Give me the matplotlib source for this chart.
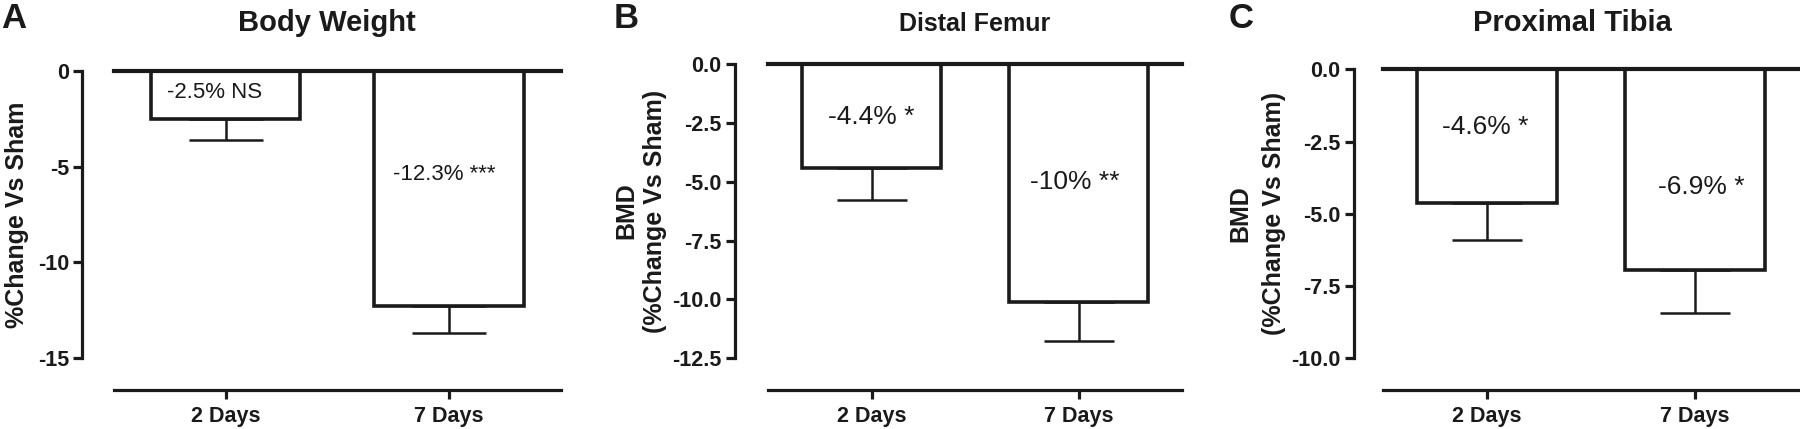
import numpy as np
import matplotlib
matplotlib.use("Agg")
import matplotlib.pyplot as plt
import matplotlib.ticker as mticker

plt.rcParams['font.family'] = ['Liberation Sans', 'DejaVu Sans']
plt.rcParams['axes.unicode_minus'] = False

# ---- data ----
groups = ['2 Days', '7 Days']

letters = ['A', 'B', 'C']
titles = ['Body Weight', 'Distal Femur', 'Proximal Tibia']
ylabel_lines = [['%Change Vs Sham'],
                ['BMD', '(%Change Vs Sham)'],
                ['BMD', '(%Change Vs Sham)']]

weight_change = [-2.5, -12.3]
weight_sem = [1.12, 1.39]
femur_change = [-4.43, -10.1]
femur_sem = [1.35, 1.65]
tibia_change = [-4.64, -6.94]
tibia_sem = [1.27, 1.48]

weight_notes = ['-2.5% NS', '-12.3% ***']
femur_notes = ['-4.4% *', '-10% **']
tibia_notes = ['-4.6% *', '-6.9% *']

weight_ticks = [0, -5, -10, -15]
femur_ticks = [0, -2.5, -5, -7.5, -10, -12.5]
tibia_ticks = [0, -2.5, -5, -7.5, -10]

# ---- layout (pixels of the 1800x429 canvas) ----
W, H = 1800, 429
panels = [
    dict(vals=weight_change, sem=weight_sem, notes=weight_notes, ticks=weight_ticks,
         fmt='%d', box=(114, 560.6, 70.7, 390), ybot=-16.66, spine_off=31.7,
         cap=26.6, note_x=[-0.05, 0.98], note_y=[-1.16, -5.44], note_fs=16,
         title_x=327, title_fs=21, letter_x=1, ylab_x=[17]),
    dict(vals=femur_change, sem=femur_sem, notes=femur_notes, ticks=femur_ticks,
         fmt='%.1f', box=(768, 1182, 64, 390), ybot=-13.85, spine_off=33.2,
         cap=25, note_x=[0.0, 0.98], note_y=[-2.24, -5.0], note_fs=19,
         title_x=975, title_fs=18, letter_x=614, ylab_x=[626, 655]),
    dict(vals=tibia_change, sem=tibia_sem, notes=tibia_notes, ticks=tibia_ticks,
         fmt='%.1f', box=(1383, 1799, 69.3, 390), ybot=-11.1, spine_off=29.1,
         cap=25.3, note_x=[-0.01, 1.03], note_y=[-1.99, -4.06], note_fs=19,
         title_x=1572, title_fs=21, letter_x=1229, ylab_x=[1240, 1274]),
]

fig = plt.figure(figsize=(W / 100, H / 100), dpi=100)
x = np.arange(len(groups))

for i, p in enumerate(panels):
    l, r, t, b = p['box']
    ax = fig.add_axes([l / W, 1 - b / H, (r - l) / W, (b - t) / H])

    ax.bar(x, p['vals'], width=0.67, color='white', edgecolor='#1a1a1a',
           linewidth=2.6, zorder=2)
    ax.errorbar(x, p['vals'], yerr=[p['sem'], [0, 0]], fmt='none',
                ecolor='#1a1a1a', elinewidth=1.8, capsize=p['cap'],
                capthick=1.8, zorder=1)
    ax.axhline(0, color='#1a1a1a', lw=3.0, clip_on=False, zorder=3)

    ax.set_xlim(-0.5, 1.5)
    ax.set_ylim(p['ybot'], 0)

    for s in ['top', 'right']:
        ax.spines[s].set_visible(False)
    ax.spines['left'].set_position(('outward', p['spine_off'] * 0.72))
    ax.spines['left'].set_bounds(min(p['ticks']), 0)
    for s in ['left', 'bottom']:
        ax.spines[s].set_linewidth(2.3)
        ax.spines[s].set_color('#1a1a1a')

    ax.set_yticks(p['ticks'])
    ax.yaxis.set_major_formatter(mticker.FormatStrFormatter(p['fmt']))
    ax.set_xticks(x)
    ax.set_xticklabels(groups)
    ax.tick_params(axis='both', direction='out', length=6.5, width=2.3,
                   color='#1a1a1a', labelsize=15.5, labelcolor='#1a1a1a')
    ax.tick_params(axis='y', pad=3)
    ax.tick_params(axis='x', pad=5)
    for lab in ax.get_xticklabels() + ax.get_yticklabels():
        lab.set_fontweight('bold')

    for nx, ny, txt in zip(p['note_x'], p['note_y'], p['notes']):
        ax.text(nx, ny, txt, ha='center', va='center', fontsize=p['note_fs'],
                color='#1a1a1a')

    fig.text(p['title_x'] / W, 1 - 31 / H, titles[i], ha='center', va='baseline',
             fontsize=p['title_fs'], fontweight='bold', color='#1a1a1a')
    fig.text(p['letter_x'] / W, 1 - 28 / H, letters[i], ha='left', va='baseline',
             fontsize=25, fontweight='bold', color='#1a1a1a')

    # y label centred on the visible part of the y spine
    spine_bottom_px = t + min(p['ticks']) / p['ybot'] * (b - t)
    ymid = 1 - ((t + spine_bottom_px) / 2) / H
    for lx, line in zip(p['ylab_x'], ylabel_lines[i]):
        fig.text(lx / W, ymid, line, rotation=90, ha='center', va='center',
                 fontsize=18, fontweight='bold', color='#1a1a1a')

fig.savefig('out.png', dpi=100, facecolor='white')
